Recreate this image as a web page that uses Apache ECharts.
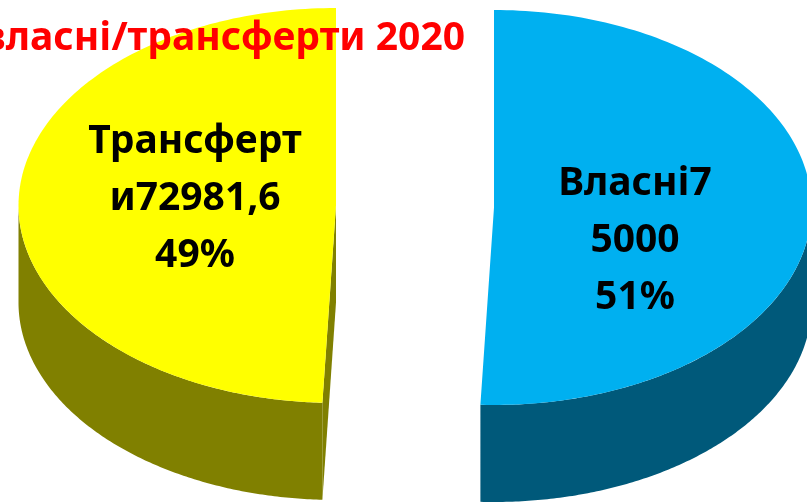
<!DOCTYPE html>
<html>
<head>
<meta charset="UTF-8">
<title>Власні/трансферти 2020</title>
<script src="https://cdn.jsdelivr.net/npm/echarts@6/dist/echarts.min.js"></script>
<style>
html, body { margin: 0; padding: 0; background: #fff; }
#main { width: 807px; height: 503px; overflow: hidden; }
</style>
</head>
<body>
<div id="main"></div>
<script>
// values
var categories = ['Власні', 'Трансферти'];
var values = [75000, 72981.6];
var sliceLabels = ['Власні7\n5000\n51%', 'Трансферт\nи72981,6\n49%'];
var titleLines = ['д', 'власні/трансферти 2020'];

var topColors = ['#00B0F0', '#FFFF00'];
var wallColors = ['#00597A', '#808000'];
var centers = [[494, 207.5], [336, 205.5]];
var labelPos = [[635, 241], [195, 199]];
var RX = 317.5, RY = 197.5, DEPTH = 97;
var FONT = '"Noto Sans", sans-serif';

var total = values.reduce(function (a, b) { return a + b; }, 0);

// theta is clockwise from 12 o'clock
function pt(c, t, dy) {
    return [c[0] + RX * Math.sin(t), c[1] - RY * Math.cos(t) + (dy || 0)];
}
function arc(c, t0, t1, dy) {
    var pts = [];
    var n = 160;
    for (var i = 0; i <= n; i++) {
        pts.push(pt(c, t0 + (t1 - t0) * i / n, dy));
    }
    return pts;
}

function renderSlice(params, api) {
    var idx = params.dataIndex;
    var c = centers[idx];
    var before = 0;
    for (var i = 0; i < idx; i++) before += values[i];
    var t0 = before / total * Math.PI * 2;
    var t1 = (before + api.value(1)) / total * Math.PI * 2;
    var children = [];

    // outer wall, only the front half of the ellipse shows
    var w0 = Math.max(t0, Math.PI / 2);
    var w1 = Math.min(t1, Math.PI * 1.5);
    if (w1 > w0) {
        var wall = arc(c, w0, w1, 0).concat(arc(c, w0, w1, DEPTH).reverse());
        children.push({
            type: 'polygon',
            shape: { points: wall },
            style: { fill: wallColors[idx] }
        });
    }
    // cut wall along the start radius (what shows of it)
    var cut = [c, pt(c, t0, 0), pt(c, t0, DEPTH), [c[0], c[1] + DEPTH]];
    children.push({
        type: 'polygon',
        shape: { points: cut },
        style: { fill: wallColors[idx] }
    });
    // top face
    children.push({
        type: 'polygon',
        shape: { points: [c].concat(arc(c, t0, t1, 0)) },
        style: { fill: topColors[idx] }
    });
    children.push({
        type: 'text',
        x: labelPos[idx][0],
        y: labelPos[idx][1],
        style: {
            text: sliceLabels[idx],
            fill: '#000',
            font: 'bold 39px ' + FONT,
            lineHeight: 57,
            align: 'center',
            verticalAlign: 'middle'
        }
    });
    return { type: 'group', children: children };
}

var myChart = echarts.init(document.getElementById('main'), null, { renderer: 'canvas' });
myChart.setOption({
    animation: false,
    backgroundColor: '#fff',
    graphic: [
        {
            type: 'text', z: 100, x: 100, y: -2,
            style: { text: titleLines[0], fill: '#f00', font: 'bold 39px ' + FONT, align: 'center', verticalAlign: 'bottom' }
        },
        {
            type: 'text', z: 100, x: 465, y: 39,
            style: { text: titleLines[1], fill: '#f00', font: 'bold 39px ' + FONT, align: 'right', verticalAlign: 'middle' }
        }
    ],
    series: [{
        type: 'custom',
        coordinateSystem: 'none',
        renderItem: renderSlice,
        data: categories.map(function (name, i) {
            return { name: name, value: [i, values[i]] };
        })
    }]
});
</script>
</body>
</html>
